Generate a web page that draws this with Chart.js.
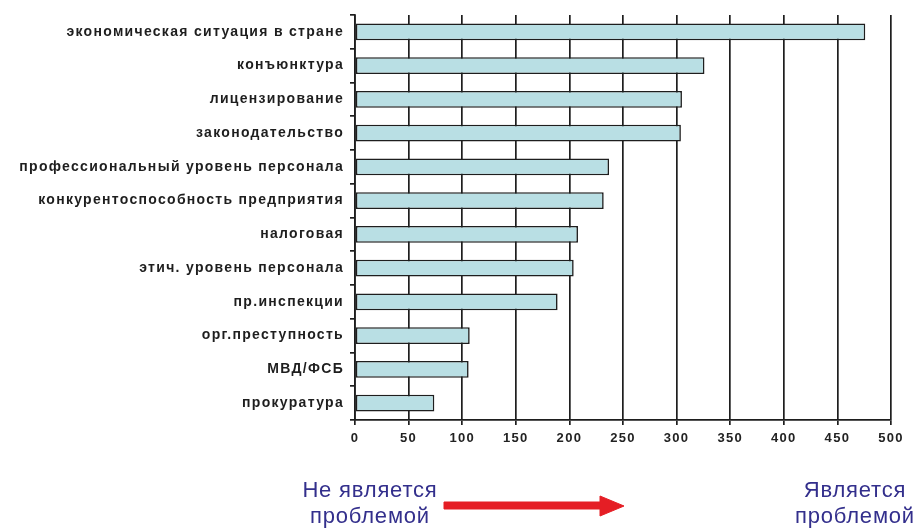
<!DOCTYPE html>
<html>
<head>
<meta charset="utf-8">
<script src="https://cdn.jsdelivr.net/npm/chart.js@4.4.1/dist/chart.umd.min.js"></script>
<style>
  html, body { margin: 0; padding: 0; background: #fff; }
  #wrap { position: relative; width: 922px; height: 528px; overflow: hidden; }
  #c { position: absolute; left: 0; top: 0; }
  .note { position: absolute; font-family: "Liberation Sans", Arial, sans-serif; font-size: 22px; letter-spacing: 0.8px; color: #332f8c; line-height: 26px; text-align: center; }
  #arrow { position: absolute; left: 440px; top: 492px; }
</style>
</head>
<body>
<div id="wrap">
  <canvas id="c" width="922" height="528"></canvas>
  <div class="note" style="left:285px; top:477px; width:170px;">Не является<br>проблемой</div>
  <div class="note" style="left:770px; top:477px; width:170px;">Является<br>проблемой</div>
  <svg id="arrow" width="190" height="28" viewBox="0 0 190 28">
    <path d="M4 10 L160 10 L160 4 L184 14 L160 24 L160 17 L4 17 Z" fill="#e51e25" stroke="#e51e25" stroke-width="1" stroke-linejoin="round"/>
  </svg>
</div>
<script>
const categories = [
  "экономическая ситуация в стране",
  "конъюнктура",
  "лицензирование",
  "законодательство",
  "профессиональный уровень персонала",
  "конкурентоспособность предприятия",
  "налоговая",
  "этич. уровень персонала",
  "пр.инспекции",
  "орг.преступность",
  "МВД/ФСБ",
  "прокуратура"
];
const values = [476, 326, 305, 304, 237, 232, 208, 204, 189, 107, 106, 74];
const xTicks = [0, 50, 100, 150, 200, 250, 300, 350, 400, 450, 500];

const spacingPlugin = {
  id: 'spacing',
  beforeDraw(chart) { chart.ctx.letterSpacing = '1.3px'; }
};

new Chart(document.getElementById('c'), {
  type: 'bar',
  data: {
    labels: categories,
    datasets: [{
      data: values,
      backgroundColor: '#b9dfe4',
      borderColor: '#1e1e1e',
      borderWidth: 1.6,
      borderSkipped: false,
      barPercentage: 0.5,
      categoryPercentage: 1.0
    }]
  },
  options: {
    indexAxis: 'y',
    responsive: false,
    animation: false,
    devicePixelRatio: 1,
    layout: { padding: { left: 0, right: 31, top: 15, bottom: 78 } },
    plugins: { legend: { display: false }, tooltip: { enabled: false } },
    scales: {
      x: {
        min: 0, max: 500,
        afterBuildTicks(scale) { scale.ticks = xTicks.map(v => ({ value: v })); },
        afterFit(scale) { scale.height = 30; },
        grid: { color: '#1e1e1e', lineWidth: 1.7, tickLength: 5, drawTicks: true },
        border: { display: true, color: '#1e1e1e', width: 1.7 },
        ticks: { color: '#222', font: { family: '"Liberation Sans", Arial', size: 13, weight: 'bold' }, padding: 6 }
      },
      y: {
        offset: true,
        afterFit(scale) { scale.width = 355; },
        grid: { drawOnChartArea: false, drawTicks: true, tickLength: 5, color: '#1e1e1e', lineWidth: 1.7, offset: true },
        border: { display: true, color: '#1e1e1e', width: 1.7 },
        ticks: { color: '#1e1e1e', font: { family: '"Liberation Sans", Arial', size: 14, weight: 'bold' }, padding: 6 }
      }
    }
  },
  plugins: [spacingPlugin]
});
</script>
</body>
</html>
